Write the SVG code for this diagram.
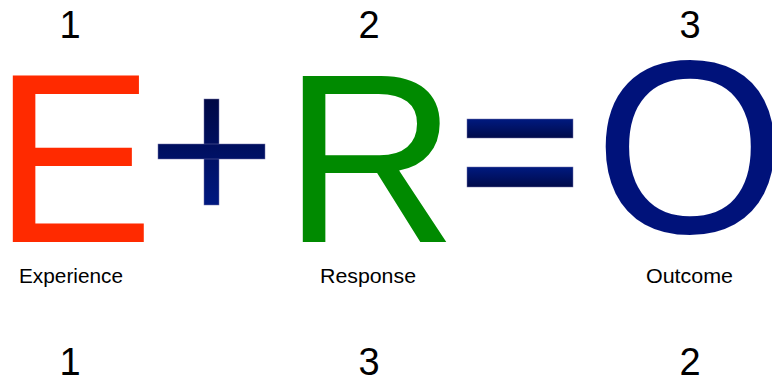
<svg xmlns="http://www.w3.org/2000/svg" width="772" height="382" viewBox="0 0 772 382">
<style>
  .big{font-family:"Liberation Sans",Arial,Helvetica,sans-serif;}
  .num{font-family:"Liberation Sans",Arial,Helvetica,sans-serif;font-size:38px;fill:#000;text-anchor:middle;}
  .lbl{font-family:"Liberation Sans",Arial,Helvetica,sans-serif;font-size:20px;fill:#000;}
</style>
<defs>
  <linearGradient id="plusGrad" gradientUnits="userSpaceOnUse" x1="0" y1="99" x2="0" y2="205">
    <stop offset="0" stop-color="#000845"/>
    <stop offset="1" stop-color="#001880"/>
  </linearGradient>
  <linearGradient id="eqGrad" x1="0" y1="0" x2="0" y2="1">
    <stop offset="0" stop-color="#001a80"/>
    <stop offset="1" stop-color="#000a4a"/>
  </linearGradient>
</defs>
<rect width="772" height="382" fill="#fff"/>
<g id="experience">
  <text class="num" x="70" y="38">1</text>
  <text class="big" x="-7" y="242" font-size="241.6" fill="#ff2a00">E</text>
  <text class="lbl" x="19" y="283" textLength="104" lengthAdjust="spacingAndGlyphs">Experience</text>
  <text class="num" x="70" y="375">1</text>
</g>
<g id="plus">
  <rect x="204" y="99" width="15" height="106" fill="url(#plusGrad)" stroke="#7070a8" stroke-width="0.5"/>
  <rect x="158" y="144" width="107" height="15" fill="url(#plusGrad)" stroke="#7070a8" stroke-width="0.5"/>
</g>
<g id="response">
  <text class="num" x="369" y="38">2</text>
  <text class="big" x="283" y="242" font-size="241.6" fill="#008a00">R</text>
  <text class="lbl" x="320" y="283" textLength="96" lengthAdjust="spacingAndGlyphs">Response</text>
  <text class="num" x="369" y="375">3</text>
</g>
<g id="equals">
  <rect x="467" y="119" width="106" height="19" fill="url(#eqGrad)" stroke="#7070a8" stroke-width="0.5"/>
  <rect x="467" y="167" width="106" height="20" fill="url(#eqGrad)" stroke="#7070a8" stroke-width="0.5"/>
</g>
<g id="outcome">
  <text class="num" x="690" y="38">3</text>
  <text class="big" x="594" y="233" font-size="247" fill="#00127a">O</text>
  <text class="lbl" x="646" y="283" textLength="87" lengthAdjust="spacingAndGlyphs">Outcome</text>
  <text class="num" x="690" y="375">2</text>
</g>
<g id="connectors"/>
</svg>
